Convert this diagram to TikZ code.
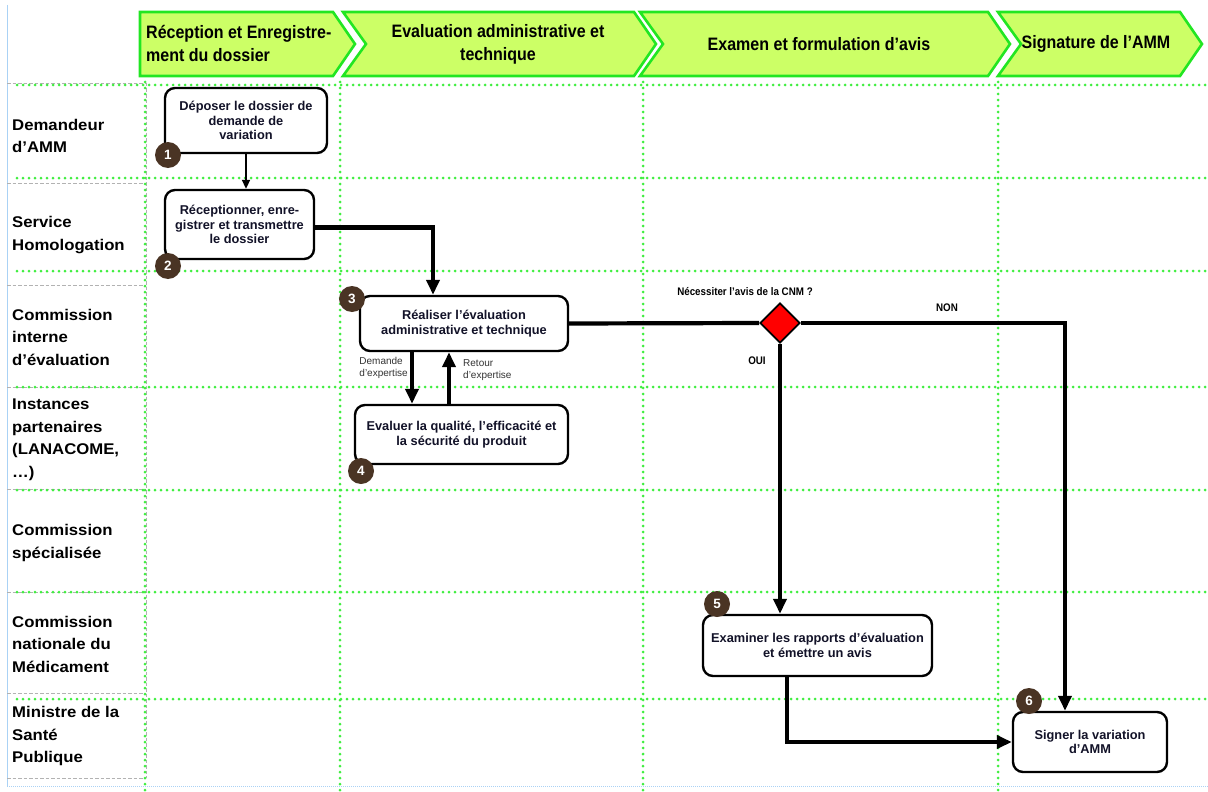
\documentclass[tikz,border=0pt]{standalone}
\usepackage{fontspec}
\setmainfont{Liberation Sans}
\newfontfamily\lanefont[FakeStretch=1.08]{Liberation Sans}
\newfontfamily\headfont[FakeStretch=0.89]{Liberation Sans}
\usetikzlibrary{arrows.meta,shapes.geometric,calc}
\definecolor{gridgreen}{RGB}{64,238,64}
\definecolor{chevfill}{RGB}{204,255,102}
\definecolor{chevline}{RGB}{34,230,34}
\definecolor{badgebrown}{RGB}{74,52,36}
\definecolor{boxtext}{RGB}{18,18,40}
\definecolor{edgeblue}{RGB}{170,210,245}
\begin{document}
\begin{tikzpicture}[x=1pt,y=-1pt,
  gdot/.style={draw=gridgreen,line width=3pt,dash pattern=on 0pt off 6pt,line cap=round},
  gdash/.style={draw=black!30,line width=0.9pt,dash pattern=on 3.5pt off 2pt},
  chev/.style={draw=chevline,fill=chevfill,line width=2.6pt,line join=miter},
  headtxt/.style={font=\headfont\bfseries\fontsize{18}{23}\selectfont,text=black,inner sep=0pt},
  lane/.style={anchor=west,align=left,font=\lanefont\bfseries\fontsize{15.5}{22.5}\selectfont,inner sep=0pt},
  stepbox/.style={draw=black,line width=2.4pt,rounded corners=10pt,fill=white,align=center,font=\bfseries\fontsize{12.8}{14.5}\selectfont,text=boxtext,inner sep=0pt},
  badge/.style={circle,fill=badgebrown,minimum size=26pt,inner sep=0pt,text=white,font=\bfseries\fontsize{13.5}{13.5}\selectfont},
  flow/.style={line width=4.2pt,-{Triangle[length=15pt,width=13pt]}},
  thinflow/.style={line width=2pt,-{Triangle[length=9pt,width=8pt]}},
  smalllbl/.style={font=\fontsize{10}{11.5}\selectfont,text=black!80,align=left,inner sep=0pt},
  boldlbl/.style={font=\headfont\bfseries\fontsize{11}{12}\selectfont,inner sep=0pt}
]
\useasboundingbox (0,0) rectangle (1208,792);
\fill[white] (0,0) rectangle (1208,792);

% outer light blue edges
\draw[edgeblue,line width=0.8pt] (7,5) -- (7,786);
\draw[edgeblue,line width=0.8pt,dash pattern=on 1pt off 1pt] (7,786) -- (1208,786);

% left column gray dashed cells
\foreach \yy in {83,183,285,387,489,592,693,778}
  \draw[gdash] (7,\yy) -- (146,\yy);
\draw[gdash] (146,83) -- (146,778);

% green dotted grid
\foreach \yy in {85,178,271,387,490,592,699}
  \draw[gdot] (17,\yy) -- (1208,\yy);
\foreach \xx in {145,340,643,998}
  \draw[gdot] (\xx,82) -- (\xx,792);

% header chevrons
\draw[chev] (140,12) -- (333,12) -- (355,44) -- (333,76) -- (140,76) -- cycle;
\draw[chev] (343,12) -- (634,12) -- (656,44) -- (634,76) -- (343,76) -- (366,44) -- cycle;
\draw[chev] (640,12) -- (988,12) -- (1010,44) -- (988,76) -- (640,76) -- (663,44) -- cycle;
\draw[chev] (998,12) -- (1180,12) -- (1202,44) -- (1180,76) -- (998,76) -- (1021,44) -- cycle;
\node[headtxt,anchor=west,align=left] (h1) at (146,43) {Réception et Enregistre-\\ment du dossier};
\node[headtxt,align=center] (h2) at (498,44) {Evaluation administrative et\\technique};
\node[headtxt,align=center] (h3) at (819,44) {Examen et formulation d’avis};
\node[headtxt,align=center] (h4) at (1096,44) {Signature de l’AMM};

% lane labels
\node[lane] (l1) at (12,136) {Demandeur\\d’AMM};
\node[lane] (l2) at (12,235) {Service\\Homologation};
\node[lane] (l3) at (12,337) {Commission\\interne\\d’évaluation};
\node[lane] (l4) at (12,440) {Instances\\partenaires\\(LANACOME,\\…)};
\node[lane] (l5) at (12,543) {Commission\\spécialisée};
\node[lane] (l6) at (12,644) {Commission\\nationale du\\Médicament};
\node[lane] (l7) at (12,736) {Ministre de la\\Santé\\Publique};

% process boxes
\node[stepbox,minimum width=162pt,minimum height=65pt] (b1) at (246,120.5) {Déposer le dossier de\\demande de\\variation};
\node[stepbox,minimum width=149pt,minimum height=69pt] (b2) at (239.5,224.5) {Réceptionner, enre-\\gistrer et transmettre\\le dossier};
\node[stepbox,minimum width=208pt,minimum height=55pt] (b3) at (464,323.5) {Réaliser l’évaluation\\administrative et technique};
\node[stepbox,minimum width=213pt,minimum height=59pt] (b4) at (461.5,434.5) {Evaluer la qualité, l’efficacité et\\la sécurité du produit};
\node[stepbox,minimum width=229pt,minimum height=61pt] (b5) at (817.5,645.5) {Examiner les rapports d’évaluation\\et émettre un avis};
\node[stepbox,minimum width=154pt,minimum height=60pt] (b6) at (1090,742) {Signer la variation\\d’AMM};
\node[diamond,draw=black,fill=red,line width=1.8pt,minimum size=40pt,inner sep=0pt,aspect=1] (d) at (780,323) {};

% connectors
\draw[thinflow] (b1.south) -- (b1.south |- b2.north);
\draw[flow] ([yshift=-3pt]b2.east) -| ([xshift=-31pt]b3.north);
\draw[line width=4.2pt] (b3.east) -- (d.west);
\draw[flow] (d.east) -| ([xshift=-25pt]b6.north);
\draw[flow] (d.south) -- (d.south |- b5.north);
\draw[flow] ([xshift=-30.5pt]b5.south) |- (b6.west);
\draw[flow] ([xshift=-52pt]b3.south) -- ([xshift=-52pt]b3.south |- b4.north);
\draw[flow] ([xshift=-12.5pt]b4.north) -- ([xshift=-12.5pt]b4.north |- b3.south);

% connector labels
\node[smalllbl,anchor=east] (e1) at (408,368) {Demande\\d’expertise};
\node[smalllbl,anchor=west] (e2) at (463,370) {Retour\\d’expertise};
\node[boldlbl] (q) at (745,292) {Nécessiter l’avis de la CNM ?};
\node[boldlbl] (non) at (947,308) {NON};
\node[boldlbl] (oui) at (757,361) {OUI};

% badges
\node[badge] (n1) at (168,155) {1};
\node[badge] (n2) at (168,266) {2};
\node[badge] (n3) at (352,299) {3};
\node[badge] (n4) at (361,471) {4};
\node[badge] (n5) at (717,604) {5};
\node[badge] (n6) at (1029,701) {6};
\end{tikzpicture}
\end{document}
